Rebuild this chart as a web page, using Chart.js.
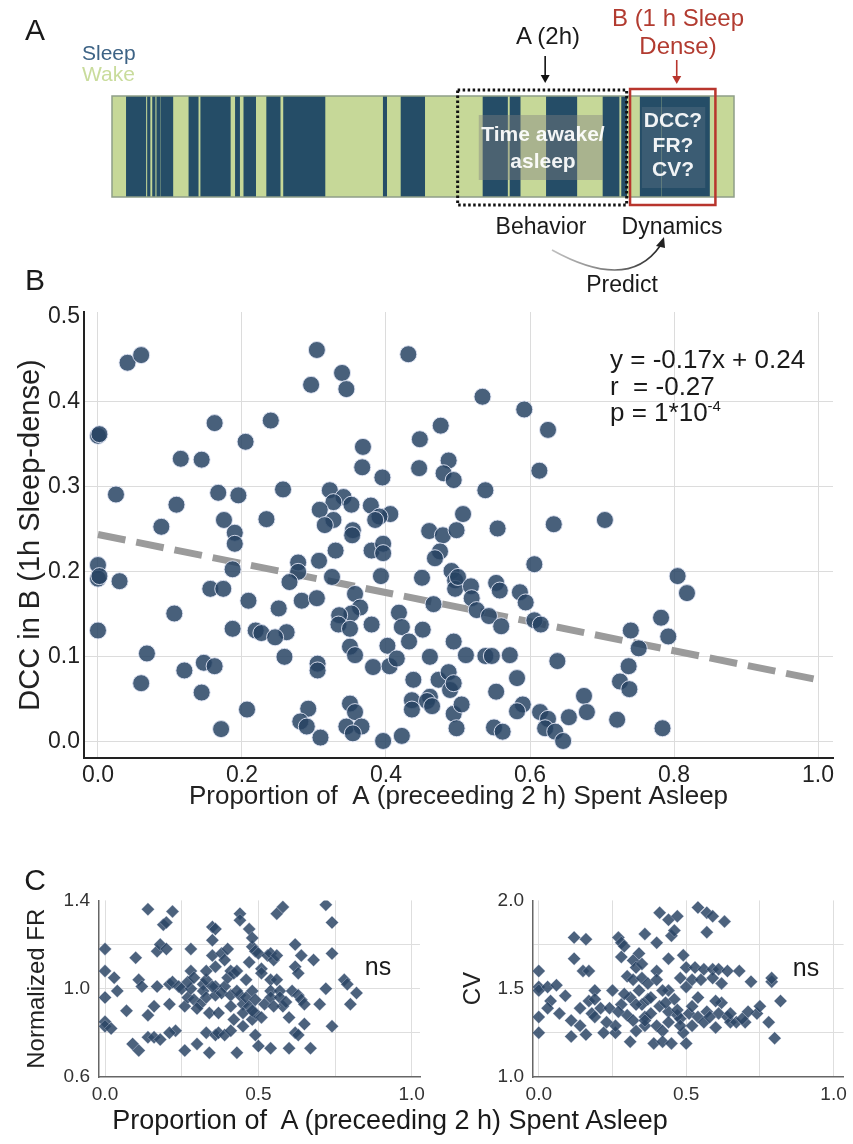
<!DOCTYPE html>
<html><head><meta charset="utf-8">
<script src="https://cdn.jsdelivr.net/npm/chart.js@4.4.1/dist/chart.umd.min.js"></script>
<style>
body{margin:0;background:#fff;width:853px;height:1144px;position:relative;overflow:hidden;font-family:'Liberation Sans',Arial,sans-serif;color:#1a1a1a}
canvas{position:absolute}
.t{position:absolute;white-space:pre;line-height:1;transform:translate(-50%,-50%)}
.l{position:absolute;white-space:pre;line-height:1;transform:translateY(-50%)}
.w{color:rgba(255,255,255,0.93);font-weight:bold;font-size:21px;z-index:3}
sup{font-size:15px;vertical-align:0;position:relative;top:-10px}
</style></head><body>
<canvas id="cA" width="853" height="300" style="left:0px;top:0px"></canvas>
<canvas id="cB" width="853" height="530" style="left:0px;top:290px"></canvas>
<canvas id="cFR" width="440" height="230" style="left:0px;top:880px"></canvas>
<canvas id="cCV" width="413" height="230" style="left:440px;top:880px"></canvas>

<div class="t" style="left:35px;top:30px;font-size:30px">A</div>
<div class="l" style="left:82px;top:52px;font-size:21px;color:#3d6385">Sleep</div>
<div class="l" style="left:82px;top:73px;font-size:21px;color:#c9dc9c">Wake</div>
<div class="t" style="left:548px;top:36px;font-size:24px">A (2h)</div>
<div class="t" style="left:678px;top:18px;font-size:24px;color:#b23b30">B (1 h Sleep</div>
<div class="t" style="left:678px;top:46px;font-size:24px;color:#b23b30">Dense)</div>
<div class="t w" style="left:543px;top:133px">Time awake/</div>
<div class="t w" style="left:543px;top:160px">asleep</div>
<div class="t w" style="left:673px;top:119px">DCC?</div>
<div class="t w" style="left:673px;top:144px">FR?</div>
<div class="t w" style="left:673px;top:168px">CV?</div>
<div class="t" style="left:541px;top:226px;font-size:23px">Behavior</div>
<div class="t" style="left:672px;top:226px;font-size:23px">Dynamics</div>
<div class="t" style="left:622px;top:284px;font-size:23px">Predict</div>

<div class="t" style="left:35px;top:280px;font-size:30px">B</div>
<div class="l" style="left:610px;top:359px;font-size:26px">y = -0.17x + 0.24</div>
<div class="l" style="left:610px;top:386px;font-size:26px">r  = -0.27</div>
<div class="l" style="left:610px;top:412px;font-size:26px">p = 1*10<sup>-4</sup></div>

<div class="t" style="left:35px;top:880px;font-size:30px">C</div>
<div class="t" style="left:378px;top:966px;font-size:25px">ns</div>
<div class="t" style="left:806px;top:967px;font-size:25px">ns</div>
<div class="t" style="left:390px;top:1120px;font-size:27px">Proportion of  A (preceeding 2 h) Spent Asleep</div>

<script>
// ---------- Panel A: sleep/wake record (hours) ----------
const recordTotalH = 7.36;
const sleepStartH = [0.17,0.42,0.48,0.53,0.58,0.91,1.05,1.46,1.56,1.83,2.03,3.21,3.42,4.39,4.71,5.14,5.81,6.03,6.25,6.51];
const sleepEndH   = [0.40,0.45,0.51,0.57,0.72,1.02,1.40,1.51,1.70,1.99,2.52,3.25,3.70,4.68,4.83,5.50,6.00,6.09,6.50,7.07];
const windowA_H = [4.09, 6.09];
const windowB_H = [6.13, 7.14];

// ---------- Panel B ----------
const propAsleepB = [0.041,0.060,0.304,0.431,0.339,0.296,0.345,0.000,0.002,0.162,0.240,0.205,0.115,0.144,0.025,0.109,0.167,0.195,0.257,0.368,0.367,0.395,0.447,0.476,0.446,0.487,0.480,0.494,0.507,0.322,0.341,0.352,0.327,0.308,0.327,0.315,0.379,0.406,0.391,0.385,0.175,0.234,0.088,0.354,0.460,0.479,0.498,
0.190,0.190,0.353,0.330,0.307,0.278,0.278,0.266,0.325,0.380,0.396,0.396,0.393,0.475,0.468,0.491,0.496,0.496,0.450,0.466,0.000,0.000,0.002,0.030,0.187,0.156,0.174,0.209,0.251,0.283,0.304,0.357,0.364,0.352,0.335,0.334,0.350,0.380,0.418,0.422,0.451,0.432,0.402,0.494,0.106,0.000,0.187,0.219,0.227,0.262,0.246,0.068,0.259,0.305,0.305,0.350,0.357,0.382,0.405,0.415,0.461,0.147,0.162,0.120,0.060,0.144,0.207,0.171,0.292,0.281,0.290,0.309,0.350,0.357,0.345,0.366,0.354,0.396,0.422,0.438,0.473,0.487,0.489,0.461,0.436,0.436,0.457,0.464,0.494,0.498,
0.534,0.592,0.625,0.613,0.538,0.555,0.633,0.704,
0.606,0.500,0.518,0.519,0.526,0.543,0.553,0.558,0.586,0.594,0.560,0.606,0.615,0.805,0.818,0.782,0.792,0.740,0.751,0.737,0.725,0.738,0.675,0.679,0.721,0.784,0.511,0.538,0.547,0.572,0.638,0.494,0.505,0.553,0.582,0.590,0.582,0.550,0.562,0.614,0.625,0.621,0.635,0.646,0.654];
const dccB = [0.446,0.455,0.461,0.456,0.434,0.420,0.415,0.360,0.362,0.375,0.378,0.353,0.333,0.332,0.291,0.279,0.293,0.290,0.297,0.347,0.323,0.311,0.356,0.372,0.322,0.331,0.316,0.308,0.268,0.296,0.288,0.279,0.282,0.273,0.261,0.255,0.278,0.268,0.265,0.261,0.261,0.262,0.253,0.249,0.248,0.243,0.249,
0.246,0.233,0.243,0.225,0.213,0.211,0.200,0.188,0.194,0.225,0.233,0.222,0.195,0.224,0.216,0.201,0.190,0.180,0.193,0.162,0.208,0.192,0.195,0.189,0.203,0.180,0.180,0.166,0.157,0.166,0.169,0.174,0.158,0.151,0.149,0.138,0.133,0.138,0.152,0.135,0.132,0.118,0.113,0.118,0.151,0.131,0.133,0.131,0.128,0.129,0.123,0.104,0.100,0.092,0.084,0.112,0.102,0.088,0.089,0.098,0.100,0.093,0.089,0.084,0.069,0.058,0.038,0.015,0.039,0.024,0.018,0.005,0.045,0.035,0.018,0.018,0.010,0.001,0.007,0.073,0.073,0.082,0.061,0.053,0.049,0.038,0.048,0.042,0.033,0.016,
0.406,0.391,0.367,0.319,0.296,0.251,0.256,0.261,
0.209,0.194,0.183,0.169,0.155,0.148,0.187,0.178,0.176,0.164,0.136,0.143,0.138,0.195,0.175,0.146,0.124,0.131,0.110,0.089,0.071,0.062,0.054,0.035,0.026,0.016,0.102,0.101,0.101,0.102,0.095,0.069,0.044,0.059,0.075,0.044,0.036,0.017,0.012,0.035,0.027,0.016,0.012,0.001,0.029];
const fitLineX = [0.0, 1.0];
const fitLineY = [0.244, 0.073];
const xTicksB = [0, 0.2, 0.4, 0.6, 0.8, 1.0];
const yTicksB = [0, 0.1, 0.2, 0.3, 0.4, 0.5];

// ---------- Panel C ----------
const propAsleepFR = [0.00,0.00,0.03,0.00,0.04,0.00,0.00,0.02,0.07,0.09, 0.11,0.10,0.11,0.12,0.14,0.14,0.14,0.16,0.17,0.17, 0.18,0.16,0.18,0.19,0.20,0.22,0.20,0.21,0.21,0.22, 0.23,0.21,0.24,0.25,0.26,0.26,0.27,0.28,0.28,0.28, 0.29,0.27,0.30,0.29,0.31,0.30,0.32,0.32,0.33,0.33, 0.33,0.33,0.34,0.34,0.35,0.35,0.35,0.36,0.36,0.36, 0.36,0.36,0.37,0.37,0.38,0.39,0.39,0.38,0.39,0.40, 0.40,0.41,0.41,0.42,0.43,0.42,0.41,0.43,0.44,0.44, 0.44,0.45,0.45,0.45,0.46,0.46,0.47,0.47,0.47,0.48, 0.48,0.49,0.48,0.48,0.49,0.49,0.49,0.50,0.50,0.51, 0.51,0.51,0.52,0.53,0.54,0.54,0.54,0.54,0.54,0.55, 0.56,0.56,0.56,0.57,0.57,0.58,0.58,0.59,0.60,0.60, 0.61,0.62,0.62,0.62,0.63,0.63,0.64,0.63,0.64,0.65, 0.65,0.67,0.68,0.70,0.72,0.72,0.74,0.74,0.74,0.78, 0.79,0.80,0.82, 0.43,0.35,0.48,0.55,0.41];
const normFR = [1.18,1.08,1.05,0.96,0.99,0.85,0.83,0.82,0.90,0.75, 0.72,1.14,1.04,1.01,0.88,0.78,1.36,0.92,1.01,1.17, 1.20,0.78,0.77,1.29,1.30,1.35,1.18,1.02,0.93,1.03, 0.81,0.80,1.01,1.00,0.72,0.92,0.96,1.08,1.18,1.00, 0.95,1.03,0.75,1.05,0.93,0.91,1.02,0.99,1.04,1.08, 0.96,0.80,0.71,0.89,1.15,1.22,1.28,1.27,1.10,1.01, 0.97,0.79,0.80,0.89,1.16,1.13,1.01,0.98,0.79,1.05, 1.18,1.08,0.97,1.07,1.08,0.86,0.81,0.71,1.34,1.31, 0.97,0.93,0.83,0.89,0.96,1.04,0.92,1.12,1.27,1.19, 1.23,1.17,0.86,0.99,0.89,0.95,0.79,1.16,0.74,1.09, 1.07,0.87,0.93,1.15,1.04,0.73,1.16,0.99,0.96,1.13, 1.34,1.15,1.04,0.99,0.96,0.92,1.37,0.94,0.73,0.87, 0.99,0.80,1.20,1.10,1.07,0.97,0.95,0.79,1.15,0.93, 0.84,0.73,1.13,0.93,1.00,1.38,1.30,0.83,1.16,1.04, 1.02,0.93,0.98, 0.99,1.01,0.90,0.92,0.92];
const propAsleepCV = [0.00,0.00,0.00,0.03,0.00,0.00,0.04,0.03,0.06,0.07, 0.09,0.11,0.11,0.12,0.12,0.16,0.15,0.17,0.14,0.14, 0.16,0.17,0.19,0.19,0.18,0.19,0.21,0.22,0.24,0.25, 0.26,0.26,0.27,0.28,0.29,0.28,0.30,0.28,0.30,0.31, 0.31,0.32,0.32,0.33,0.32,0.33,0.34,0.35,0.35,0.34, 0.35,0.36,0.36,0.36,0.37,0.37,0.38,0.39,0.40,0.40, 0.40,0.41,0.40,0.41,0.42,0.42,0.44,0.44,0.44,0.44, 0.45,0.46,0.47,0.45,0.46,0.47,0.48,0.49,0.48,0.50, 0.50,0.50,0.49,0.51,0.52,0.52,0.53,0.54,0.55,0.56, 0.57,0.57,0.59,0.59,0.59,0.57,0.54,0.56,0.61,0.62, 0.63,0.62,0.61,0.60,0.64,0.64,0.65,0.68,0.67,0.70, 0.72,0.74,0.75,0.78,0.79,0.79,0.80,0.82,0.42,0.36, 0.44,0.48,0.52,0.54,0.58,0.29,0.33,0.38,0.43,0.47, 0.23,0.27,0.65,0.69,0.71,0.60];
const cvVals = [1.60,1.51,1.49,1.51,1.34,1.25,1.43,1.39,1.52,1.36, 1.46,1.32,1.23,1.67,1.79,1.78,1.60,1.60,1.39,1.29, 1.24,1.43,1.49,1.44,1.36,1.34,1.39,1.25,1.39,1.49, 1.25,1.29,1.79,1.76,1.74,1.68,1.57,1.41,1.35,1.45, 1.20,1.66,1.55,1.62,1.32,1.26,1.70,1.64,1.56,1.49, 1.41,1.34,1.29,1.81,1.53,1.44,1.36,1.19,1.60,1.55, 1.76,1.93,1.29,1.40,1.26,1.20,1.89,1.67,1.49,1.37, 1.80,1.83,1.91,1.19,1.44,1.35,1.33,1.69,1.56,1.62, 1.51,1.19,1.25,1.36,1.40,1.55,1.62,1.96,1.55,1.61, 1.93,1.82,1.91,1.61,1.56,1.37,1.34,1.31,1.61,1.53, 1.88,1.42,1.36,1.28,1.60,1.34,1.31,1.60,1.31,1.31, 1.54,1.36,1.40,1.31,1.54,1.56,1.22,1.43,1.49,1.32, 1.31,1.29,1.29,1.45,1.34,1.47,1.41,1.45,1.42,1.38, 1.31,1.37,1.36,1.33,1.37,1.43];
const xTicksC = [0, 0.25, 0.5, 0.75, 1.0];
const xLabelsC = [0, 0.5, 1.0];
const yTicksFR = [0.6, 0.8, 1.0, 1.2, 1.4];
const yLabelsFR = [0.6, 1.0, 1.4];
const yTicksCV = [1.0, 1.25, 1.5, 1.75, 2.0];
const yLabelsCV = [1.0, 1.5, 2.0];

Chart.defaults.font.family = "'Liberation Sans', Arial, sans-serif";
Chart.defaults.color = '#222';
Chart.defaults.animation = false;

const near = (a, b) => Math.abs(a - b) < 1e-6;
const setTicks = arr => s => { s.ticks = arr.map(v => ({value: v})); };

// ----- Panel A chart -----
const annotA = {
  id: 'annotA',
  afterDatasetsDraw(chart) {
    const {ctx, chartArea: ca, scales: {x}} = chart;
    const px = v => x.getPixelForValue(v);
    ctx.save();
    ctx.strokeStyle = '#8f9e88'; ctx.lineWidth = 1.5;
    ctx.strokeRect(ca.left, ca.top, ca.right - ca.left, ca.bottom - ca.top);
    ctx.fillStyle = 'rgba(128,128,128,0.42)';
    ctx.fillRect(px(windowA_H[0] + 0.25), ca.top + 19, px(windowA_H[1] - 0.28) - px(windowA_H[0] + 0.25), 65);
    ctx.fillStyle = 'rgba(140,145,160,0.22)';
    ctx.fillRect(px(windowB_H[0] + 0.14), ca.top + 11, px(windowB_H[1] - 0.12) - px(windowB_H[0] + 0.14), 81);
    ctx.strokeStyle = '#111'; ctx.lineWidth = 3; ctx.setLineDash([2.5, 2.5]);
    ctx.strokeRect(px(windowA_H[0]), ca.top - 6, px(windowA_H[1]) - px(windowA_H[0]), ca.bottom - ca.top + 14);
    ctx.setLineDash([]);
    ctx.strokeStyle = '#b8352d'; ctx.lineWidth = 2.5;
    ctx.strokeRect(px(windowB_H[0]), ca.top - 7, px(windowB_H[1]) - px(windowB_H[0]), ca.bottom - ca.top + 15);
    const arrow = (xc, y1, y2, col) => {
      ctx.strokeStyle = col; ctx.fillStyle = col; ctx.lineWidth = 1.6;
      ctx.beginPath(); ctx.moveTo(xc, y1); ctx.lineTo(xc, y2 - 6); ctx.stroke();
      ctx.beginPath(); ctx.moveTo(xc - 4.5, y2 - 8); ctx.lineTo(xc + 4.5, y2 - 8); ctx.lineTo(xc, y2); ctx.closePath(); ctx.fill();
    };
    arrow(px((windowA_H[0] + windowA_H[1]) / 2) + 3, 56, 83, '#111');
    arrow(px((windowB_H[0] + windowB_H[1]) / 2) + 4, 60, 84, '#b8352d');
    const g = ctx.createLinearGradient(552, 0, 662, 0);
    g.addColorStop(0, 'rgba(150,150,150,0.6)'); g.addColorStop(1, '#222');
    ctx.strokeStyle = g; ctx.lineWidth = 1.6;
    ctx.beginPath(); ctx.moveTo(552, 250); ctx.quadraticCurveTo(628, 292, 660, 246); ctx.stroke();
    ctx.fillStyle = '#222';
    ctx.beginPath(); ctx.moveTo(664, 237); ctx.lineTo(656, 246); ctx.lineTo(665, 248); ctx.closePath(); ctx.fill();
    ctx.restore();
  }
};
new Chart(document.getElementById('cA'), {
  type: 'bar',
  data: {
    labels: ['record'],
    datasets: [
      {data: [[0, recordTotalH]], backgroundColor: '#c6d898', grouped: false, order: 2},
      ...sleepStartH.map((s, i) => ({data: [[s, sleepEndH[i]]], backgroundColor: '#254d67', grouped: false, order: 1}))
    ]
  },
  options: {
    indexAxis: 'y', responsive: false, animation: false,
    layout: {padding: {left: 112, right: 119, top: 96, bottom: 103}},
    datasets: {bar: {barPercentage: 1, categoryPercentage: 1, borderWidth: 0, borderSkipped: false}},
    scales: {x: {type: 'linear', min: 0, max: recordTotalH, display: false}, y: {display: false}},
    plugins: {legend: {display: false}, tooltip: {enabled: false}}
  },
  plugins: [annotA]
});

// ----- Panel B chart -----
new Chart(document.getElementById('cB'), {
  type: 'scatter',
  data: {datasets: [
    {type: 'scatter', data: propAsleepB.map((x, i) => ({x, y: dccB[i]})),
     backgroundColor: 'rgba(40,68,100,0.85)', borderColor: 'rgba(225,230,245,0.9)', borderWidth: 1, pointRadius: 8.5, order: 1},
    {type: 'line', data: fitLineX.map((x, i) => ({x, y: fitLineY[i]})),
     borderColor: '#9b9b9b', borderWidth: 7, borderDash: [28, 11], pointRadius: 0, fill: false, order: 2}
  ]},
  options: {
    responsive: false, animation: false,
    layout: {padding: {top: 22, right: 20, left: 0, bottom: 0}},
    plugins: {legend: {display: false}, tooltip: {enabled: false}},
    scales: {
      x: {type: 'linear', min: -0.0194, max: 1.0208,
        afterBuildTicks: setTicks(xTicksB), afterFit: s => { s.height = 62; },
        grid: {color: '#dcdcdc', drawTicks: false}, border: {color: '#222', width: 2},
        ticks: {padding: 4, autoSkip: false, maxRotation: 0, font: {size: 23}, color: '#222', callback: v => v.toFixed(1)},
        title: {display: true, text: 'Proportion of  A (preceeding 2 h) Spent Asleep', font: {size: 26}, color: '#222', padding: {top: 0, bottom: 8}}},
      y: {type: 'linear', min: -0.019, max: 0.5057,
        afterBuildTicks: setTicks(yTicksB), afterFit: s => { s.width = 84; },
        grid: {color: c => (c.tick && near(c.tick.value, 0.5)) ? 'rgba(0,0,0,0)' : '#dcdcdc', drawTicks: false},
        border: {color: '#222', width: 2},
        ticks: {padding: 4, autoSkip: false, font: {size: 23}, color: '#222', callback: v => v.toFixed(1)},
        title: {display: true, text: 'DCC in B (1h Sleep-dense)', font: {size: 29}, color: '#222', padding: {top: 14, bottom: 0}}}
    }
  }
});

// ----- Panel C charts -----
function cChart(id, xs, ys, yTicks, yLabels, ymin, ymax, yTitle, yw, padRight, titlePad, xmax) {
  return new Chart(document.getElementById(id), {
    type: 'scatter',
    data: {datasets: [{data: xs.map((x, i) => ({x, y: ys[i]})), pointStyle: 'rectRot', pointRadius: 6.5,
      backgroundColor: 'rgba(45,70,102,0.85)', borderColor: 'rgba(220,225,240,0.6)', borderWidth: 0.5}]},
    options: {
      responsive: false, animation: false,
      layout: {padding: {top: 17, right: padRight, left: 0, bottom: 0}},
      plugins: {legend: {display: false}, tooltip: {enabled: false}},
      scales: {
        x: {type: 'linear', min: -0.0196, max: xmax,
          afterBuildTicks: setTicks(xTicksC), afterFit: s => { s.height = 33; },
          grid: {color: '#dedede', drawTicks: false}, border: {color: '#666', width: 1.5},
          ticks: {padding: 6, autoSkip: false, maxRotation: 0, font: {size: 19}, color: '#333',
            callback: v => xLabelsC.some(l => near(l, v)) ? v.toFixed(1) : ''}},
        y: {type: 'linear', min: ymin, max: ymax,
          afterBuildTicks: setTicks(yTicks), afterFit: s => { s.width = yw; },
          grid: {color: c => (c.tick && (near(c.tick.value, ymin) || near(c.tick.value, ymax))) ? 'rgba(0,0,0,0)' : '#dedede', drawTicks: false},
          border: {color: '#666', width: 1.5},
          ticks: {padding: 9, autoSkip: false, font: {size: 19}, color: '#333',
            callback: v => yLabels.some(l => near(l, v)) ? v.toFixed(1) : ''},
          title: {display: true, text: yTitle, font: {size: 24}, color: '#222', padding: {top: titlePad, bottom: 0}}}
      }
    }
  });
}
cChart('cFR', propAsleepFR, normFR, yTicksFR, yLabelsFR, 0.6, 1.4, 'Normalized FR', 99, 20, 23, 1.027);
cChart('cCV', propAsleepCV, cvVals, yTicksCV, yLabelsCV, 1.0, 2.0, 'CV', 93, 6, 19, 1.034);
</script>
</body></html>
